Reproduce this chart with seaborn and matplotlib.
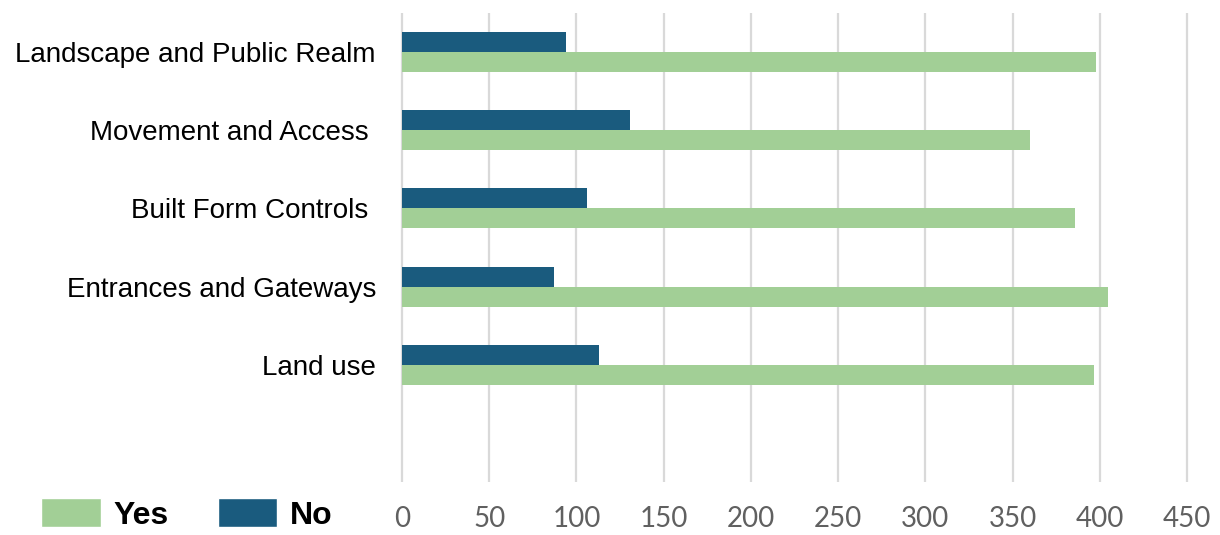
import seaborn as sns
import matplotlib.pyplot as plt
import pandas as pd
from matplotlib.patches import Patch

# values
categories = ["Landscape and Public Realm", "Movement and Access ", "Built Form Controls ",
              "Entrances and Gateways", "Land use"]
no_values = [94, 131, 106, 87, 113]
yes_values = [398, 360, 386, 405, 397]
x_ticks = [0, 50, 100, 150, 200, 250, 300, 350, 400, 450]

green = "#a2cf96"
blue = "#1a5b7e"

df = pd.DataFrame({
    "category": categories + categories,
    "count": no_values + yes_values,
    "answer": ["No"] * len(categories) + ["Yes"] * len(categories),
})

sns.set_style("white")
plt.rcParams['font.family'] = ['Liberation Sans', 'DejaVu Sans']

fig = plt.figure(figsize=(12.2, 5.35), dpi=100)
ax = fig.add_axes([0.3252, 0.0991, 0.6520, 0.8766])

sns.barplot(data=df, x="count", y="category", hue="answer", hue_order=["No", "Yes"],
            palette={"No": blue, "Yes": green}, width=0.513, saturation=1,
            errorbar=None, legend=False, linewidth=0, ax=ax)

# one empty slot below the last category, like the original
ax.set_ylim(5.5, -0.5)
ax.set_xlim(-3, 453)
ax.set_xticks(x_ticks)
ax.set_xlabel("")
ax.set_ylabel("")
for s in ax.spines.values():
    s.set_visible(False)
ax.grid(axis="x", color="#d9d9d9", lw=1.6)
ax.set_axisbelow(True)

ax.tick_params(axis="x", length=0, pad=17, labelsize=20, labelcolor="#606060")
for lbl in ax.get_xticklabels():
    lbl.set_family(["Lato", "DejaVu Sans"])
ax.tick_params(axis="y", length=0, pad=15, labelsize=20, labelcolor="black")

handles = [Patch(facecolor=green, label="Yes"), Patch(facecolor=blue, label="No")]
fig.legend(handles=handles, loc="lower left", bbox_to_anchor=(0.0334, 0.008), ncol=2,
           frameon=False, prop={"weight": "bold", "size": 23}, labelcolor="black",
           handlelength=1.875, handleheight=1.0, handletextpad=0.4,
           columnspacing=1.53, borderpad=0, borderaxespad=0)

fig.savefig("out.png", dpi=100)
